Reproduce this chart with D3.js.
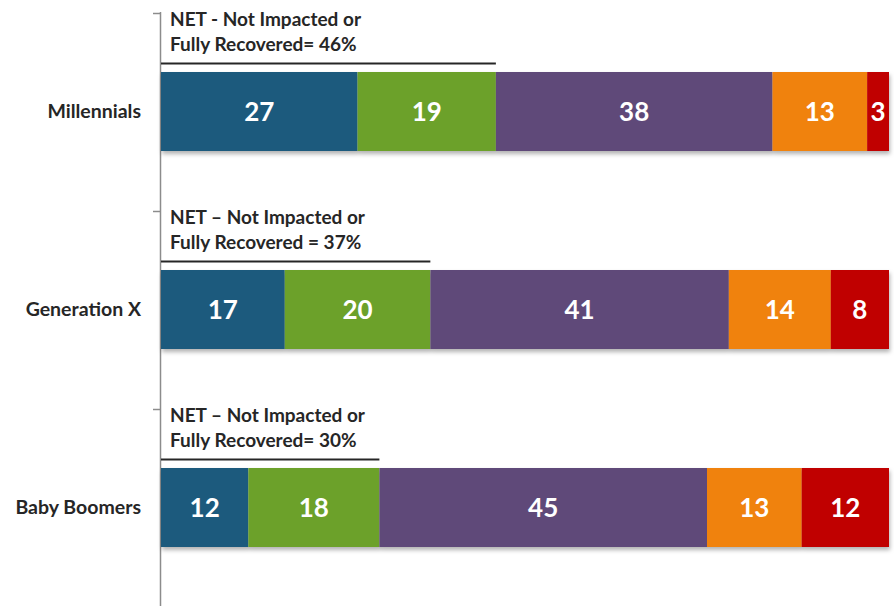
<!DOCTYPE html>
<html>
<head>
<meta charset="utf-8">
<script src="https://cdn.jsdelivr.net/npm/d3@7"></script>
<style>
  body { margin: 0; background: #fff; }
  text { font-family: Lato, "Open Sans", sans-serif; font-weight: bold; }
</style>
</head>
<body>
<div id="chart"></div>
<script>
// the data
var categories = ["Millennials", "Generation X", "Baby Boomers"];
var segmentColors = ["#1f5a7d", "#6ca12a", "#5f4a79", "#f0820d", "#c00000"];
var values = [
  [27, 19, 38, 13, 3],
  [17, 20, 41, 14, 8],
  [12, 18, 45, 13, 12]
];
var netValues = [46, 37, 30];
var netLine1 = ["NET - Not Impacted or", "NET \u2013 Not Impacted or", "NET \u2013 Not Impacted or"];
var netLine2 = ["Fully Recovered= 46%", "Fully Recovered = 37%", "Fully Recovered= 30%"];

var width = 894, height = 606;

var svg = d3.select("#chart")
  .append("svg")
  .attr("width", width)
  .attr("height", height);

var defs = svg.append("defs");
var shadow = defs.append("filter")
  .attr("id", "shadow")
  .attr("x", "-5%").attr("y", "-10%")
  .attr("width", "110%").attr("height", "130%");
shadow.append("feDropShadow")
  .attr("dx", 1).attr("dy", 3)
  .attr("stdDeviation", 2)
  .attr("flood-color", "#000")
  .attr("flood-opacity", 0.3);

var x = d3.scaleLinear().domain([0, 100]).range([161, 889]);
var y = d3.scaleBand().domain(categories).range([12, 606]);

var barTop = 60, barH = 79;

// vertical axis line
svg.append("line")
  .attr("x1", 160.5).attr("x2", 160.5)
  .attr("y1", 12).attr("y2", height)
  .attr("stroke", "#8c8c8c")
  .attr("stroke-width", 1.5);

// little ticks at top of each band
svg.selectAll(".tick")
  .data(categories)
  .enter().append("line")
  .attr("class", "tick")
  .attr("x1", 153).attr("x2", 160)
  .attr("y1", function(d) { return y(d) + 1.5; })
  .attr("y2", function(d) { return y(d) + 1.5; })
  .attr("stroke", "#8c8c8c")
  .attr("stroke-width", 1.5);

// rows
var rows = svg.selectAll(".row")
  .data(categories)
  .enter().append("g")
  .attr("class", "row")
  .attr("transform", function(d) { return "translate(0," + y(d) + ")"; });

rows.each(function(cat, i) {
  var g = d3.select(this);
  var segs = [];
  var acc = 0;
  values[i].forEach(function(v, j) {
    segs.push({ v: v, x0: acc, x1: acc + v, c: segmentColors[j] });
    acc += v;
  });

  var bar = g.append("g").attr("filter", "url(#shadow)");
  bar.selectAll("rect")
    .data(segs)
    .enter().append("rect")
    .attr("x", function(d) { return x(d.x0); })
    .attr("y", barTop)
    .attr("width", function(d) { return x(d.x1) - x(d.x0); })
    .attr("height", barH)
    .attr("fill", function(d) { return d.c; });

  g.selectAll(".val")
    .data(segs)
    .enter().append("text")
    .attr("class", "val")
    .attr("x", function(d) { return (x(d.x0) + x(d.x1)) / 2; })
    .attr("y", barTop + barH / 2 + 9.5)
    .attr("text-anchor", "middle")
    .attr("fill", "#fff")
    .style("font-size", "26px")
    .text(function(d) { return d.v; });

  // category label
  g.append("text")
    .attr("x", 141)
    .attr("y", barTop + barH / 2 + 6.5)
    .attr("text-anchor", "end")
    .attr("fill", "#262626")
    .style("font-size", "19.5px")
    .text(cat);

  // NET annotation
  g.append("text")
    .attr("x", 170).attr("y", 13.5)
    .attr("fill", "#262626")
    .style("font-size", "19px")
    .text(netLine1[i]);
  g.append("text")
    .attr("x", 170).attr("y", 38.5)
    .attr("fill", "#262626")
    .style("font-size", "19px")
    .text(netLine2[i]);
  g.append("line")
    .attr("x1", x(0)).attr("x2", x(netValues[i]))
    .attr("y1", 51.5).attr("y2", 51.5)
    .attr("stroke", "#262626")
    .attr("stroke-width", 2);
});
</script>
</body>
</html>
